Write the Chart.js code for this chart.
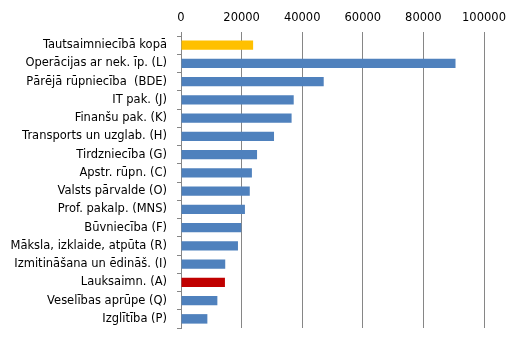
<!DOCTYPE html>
<html>
<head>
<meta charset="utf-8">
<script src="https://cdn.jsdelivr.net/npm/chart.js@4"></script>
<style>
  html, body { margin: 0; padding: 0; background: #fff; }
  #wrap { width: 526px; height: 347px; }
</style>
</head>
<body>
<div id="wrap"><canvas id="chart"></canvas></div>
<script>
const labels = [
    'Tautsaimniecībā kopā',
    'Operācijas ar nek. īp. (L)',
    'Pārējā rūpniecība  (BDE)',
    'IT pak. (J)',
    'Finanšu pak. (K)',
    'Transports un uzglab. (H)',
    'Tirdzniecība (G)',
    'Apstr. rūpn. (C)',
    'Valsts pārvalde (O)',
    'Prof. pakalp. (MNS)',
    'Būvniecība (F)',
    'Māksla, izklaide, atpūta (R)',
    'Izmitināšana un ēdināš. (I)',
    'Lauksaimn. (A)',
    'Veselības aprūpe (Q)',
    'Izglītība (P)'
]

const values = [23800, 90600, 47100, 37200, 36500, 30700, 25100, 23400, 22700, 21100, 19900, 18800, 14600, 14500, 12000, 8700]

const xTicks = [0, 20000, 40000, 60000, 80000, 100000]

// krāsas: kopā - dzeltens, lauksaimniecība - sarkans
const barColors = labels.map((l) => {
    if (l == 'Tautsaimniecībā kopā') return '#ffc000'
    if (l == 'Lauksaimn. (A)') return '#c00000'
    return '#4f81bd'
})

const font = { family: 'DejaVu Sans', size: 11.5 }

const config = {
    type: 'bar',
    data: {
        labels: labels,
        datasets: [{
            data: values,
            backgroundColor: barColors,
            borderWidth: 0,
            categoryPercentage: 1,
            barPercentage: 0.52
        }]
    },
    options: {
        indexAxis: 'y',
        responsive: true,
        maintainAspectRatio: false,
        animation: false,
        layout: { padding: { left: 0, right: 42, top: 0, bottom: 19 } },
        plugins: {
            legend: { display: false },
            tooltip: { enabled: false }
        },
        scales: {
            x: {
                position: 'top',
                min: 0,
                max: 100000,
                afterBuildTicks: (scale) => {
                    scale.ticks = xTicks.map((v) => ({ value: v }))
                },
                afterFit: (scale) => { scale.height = 36 },
                ticks: {
                    color: '#000', font: font, padding: 7, maxRotation: 0,
                    callback: (v) => String(v)
                },
                grid: { color: '#868686', lineWidth: 1, tickLength: 4 },
                border: { display: false }
            },
            y: {
                afterFit: (scale) => { scale.width = 181 },
                ticks: { color: '#000', font: font, padding: 10, autoSkip: false },
                grid: { offset: true, drawOnChartArea: false, color: '#868686', tickLength: 4 },
                border: { color: '#868686' }
            }
        }
    }
}

const chart = new Chart(document.getElementById('chart'), config)
</script>
</body>
</html>
